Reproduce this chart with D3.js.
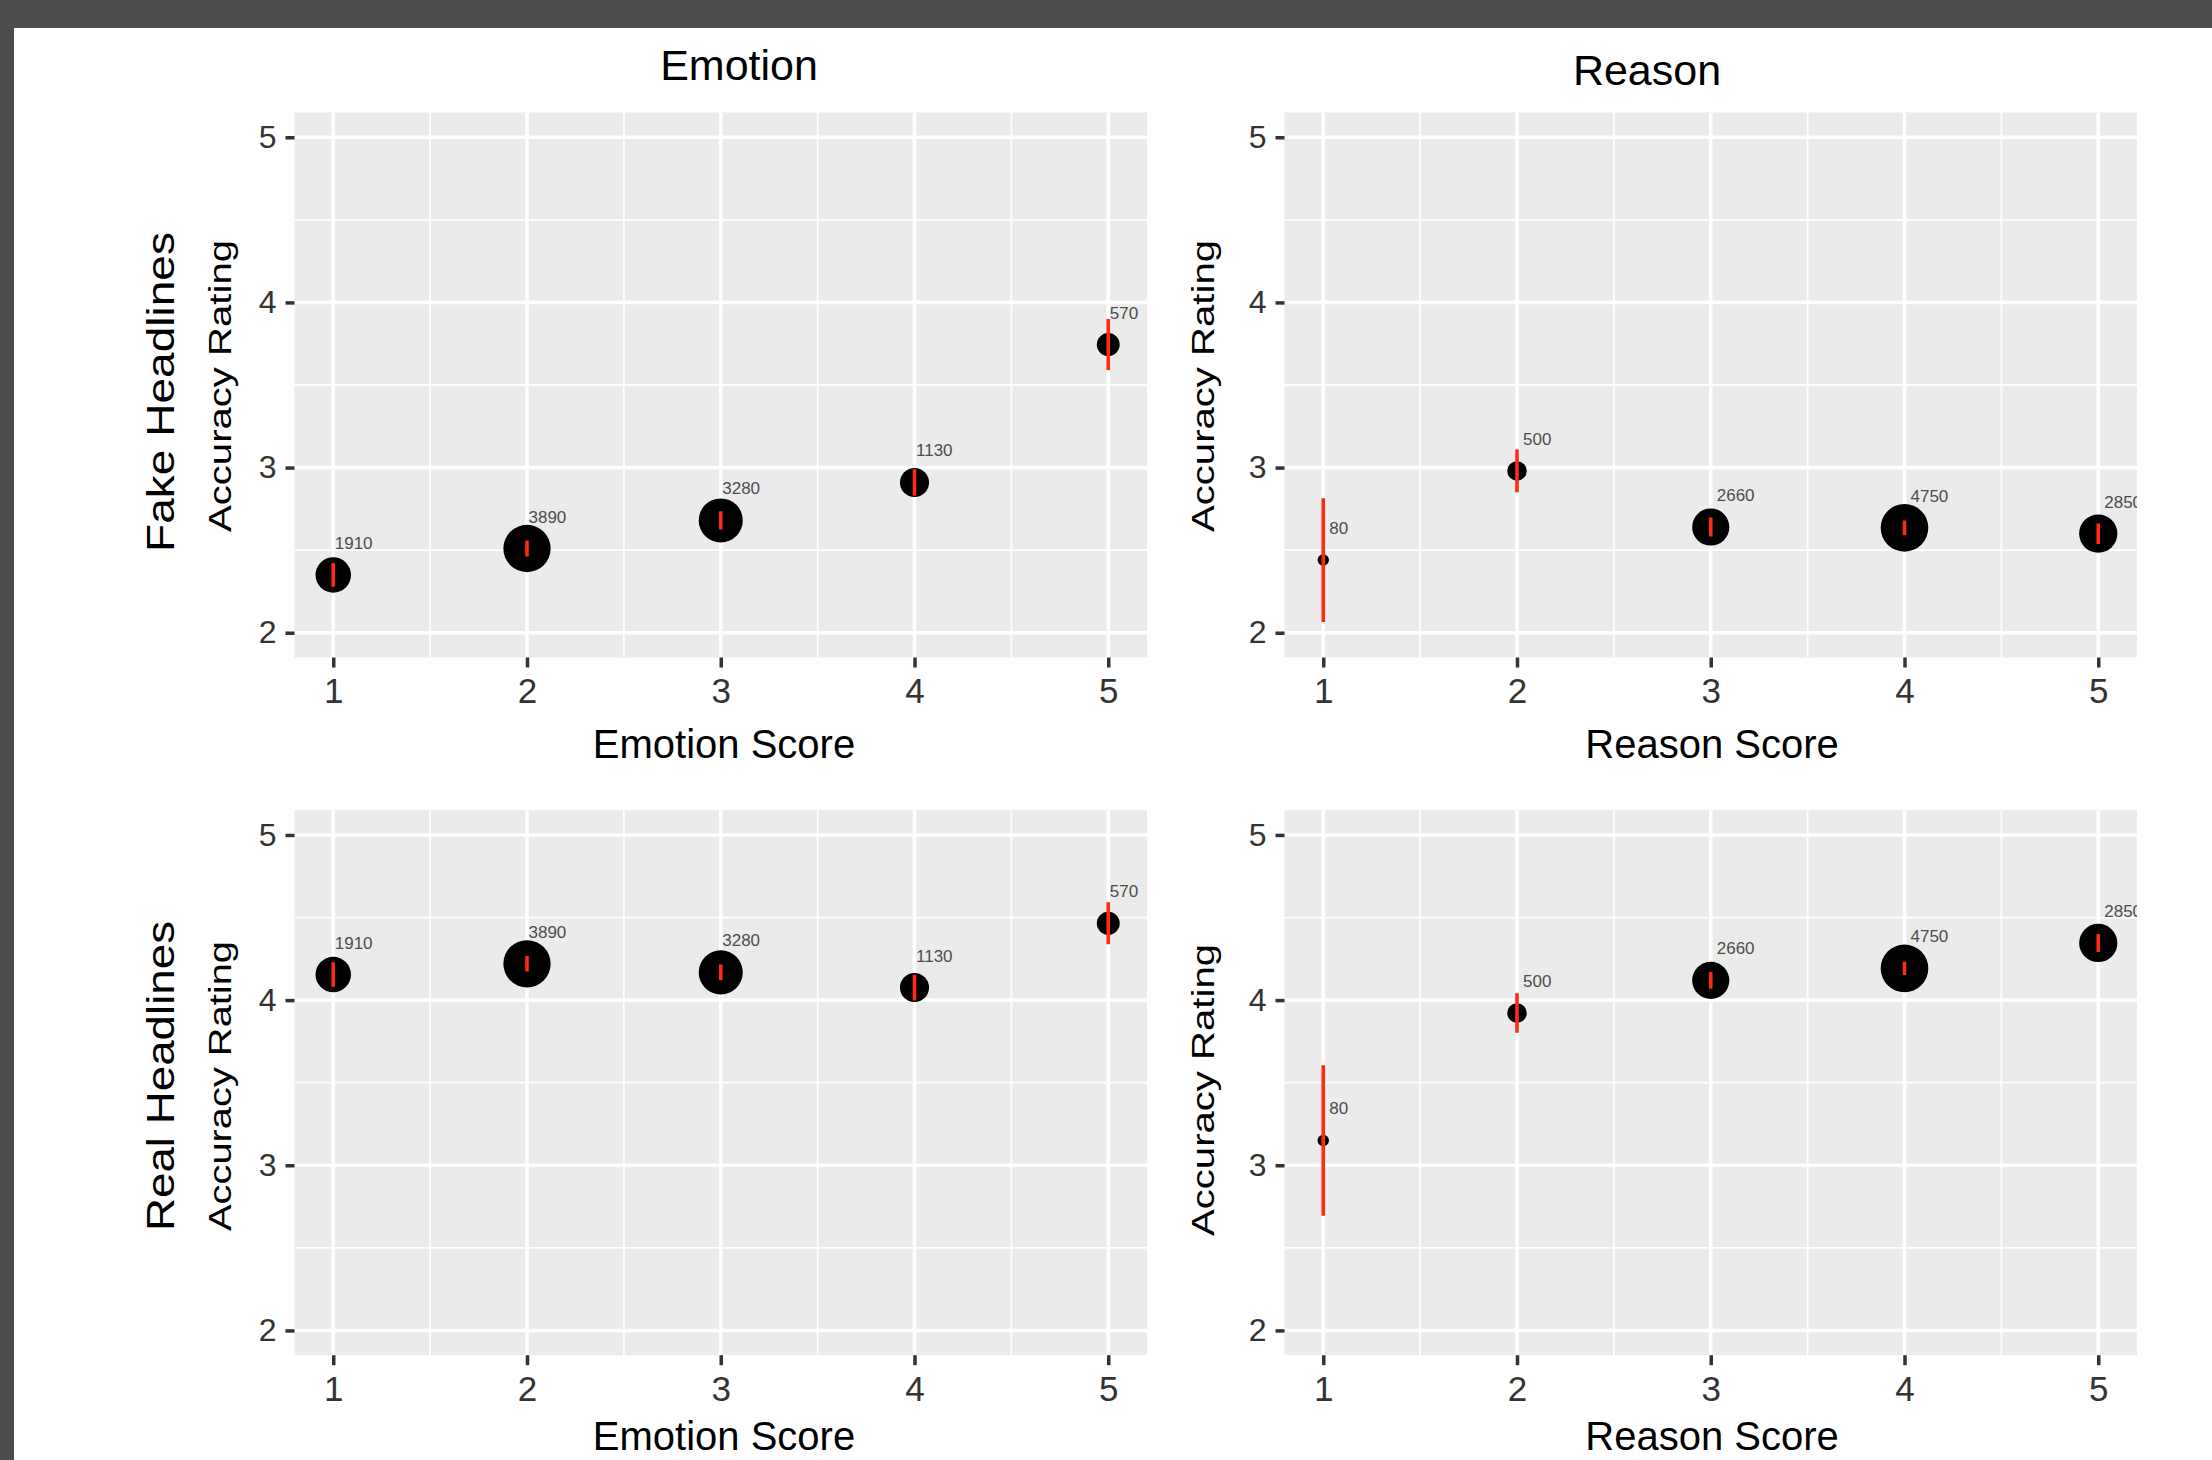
<!DOCTYPE html>

<body style="margin:0">
  <div id="chart"></div>
  <script src="https://d3js.org/d3.v7.min.js"></script>
  <script>
    // data
    var scores = [1, 2, 3, 4, 5];
    var xTicks = [1, 2, 3, 4, 5];
    var yTicks = [2, 3, 4, 5];
    var xMinor = [1.5, 2.5, 3.5, 4.5];
    var yMinor = [2.5, 3.5, 4.5];

    var emotionN = [1910, 3890, 3280, 1130, 570];
    var reasonN = [80, 500, 2660, 4750, 2850];

    var fakeEmotionMean = [2.35, 2.51, 2.68, 2.91, 3.745];
    var fakeEmotionErr = [0.072, 0.048, 0.055, 0.08, 0.155];
    var fakeReasonMean = [2.44, 2.98, 2.64, 2.635, 2.60];
    var fakeReasonErr = [0.375, 0.13, 0.057, 0.045, 0.062];

    var realEmotionMean = [4.155, 4.22, 4.168, 4.076, 4.465];
    var realEmotionErr = [0.074, 0.047, 0.047, 0.078, 0.127];
    var realReasonMean = [3.15, 3.922, 4.12, 4.192, 4.346];
    var realReasonErr = [0.455, 0.12, 0.051, 0.04, 0.054];

    var font = "'Liberation Sans', Arial, Helvetica, sans-serif";
    var width = 2212,
      height = 1460;

    var panelW = 852.5,
      panelH = 545;
    var colX = [294.5, 1284.5];
    var rowY = [112.5, 810.2];

    var xScale = d3.scaleLinear().domain([0.8, 5.2]).range([0, panelW]);
    var yScale = d3.scaleLinear().domain([1.85, 5.15]).range([panelH, 0]);

    var sizeEmotion = d3.scalePow().exponent(0.5).domain([0, 5000]).range([3.9, 26.3]);
    var sizeReason = d3.scalePow().exponent(0.5).domain([0, 5000]).range([3.0, 24.35]);

    var svg = d3.select("#chart")
      .append("svg")
      .attr("width", width)
      .attr("height", height)
      .style("font-family", font);

    svg.append("rect")
      .attr("width", width)
      .attr("height", height)
      .attr("fill", "#4d4d4d");
    svg.append("rect")
      .attr("x", 14)
      .attr("y", 28)
      .attr("width", width - 14)
      .attr("height", height - 28)
      .attr("fill", "#ffffff");

    function drawPanel(id, px, py, means, errs, counts, sizeScale, labelDx) {
      var rows = scores.map(function(s, i) {
        return { score: s, mean: means[i], err: errs[i], n: counts[i] };
      });

      var g = svg.append("g")
        .attr("transform", "translate(" + px + "," + py + ")");

      svg.append("clipPath")
        .attr("id", id)
        .append("rect")
        .attr("x", px)
        .attr("y", py)
        .attr("width", panelW)
        .attr("height", panelH);

      g.append("rect")
        .attr("width", panelW)
        .attr("height", panelH)
        .attr("fill", "#ebebeb");

      // minor grid
      g.selectAll(".xminor").data(xMinor).enter().append("line")
        .attr("x1", function(d) { return xScale(d); })
        .attr("x2", function(d) { return xScale(d); })
        .attr("y1", 0).attr("y2", panelH)
        .attr("stroke", "#ffffff").attr("stroke-width", 1.8);
      g.selectAll(".yminor").data(yMinor).enter().append("line")
        .attr("y1", function(d) { return yScale(d); })
        .attr("y2", function(d) { return yScale(d); })
        .attr("x1", 0).attr("x2", panelW)
        .attr("stroke", "#ffffff").attr("stroke-width", 1.8);

      // major grid
      g.selectAll(".xmajor").data(xTicks).enter().append("line")
        .attr("x1", function(d) { return xScale(d); })
        .attr("x2", function(d) { return xScale(d); })
        .attr("y1", 0).attr("y2", panelH)
        .attr("stroke", "#ffffff").attr("stroke-width", 3.6);
      g.selectAll(".ymajor").data(yTicks).enter().append("line")
        .attr("y1", function(d) { return yScale(d); })
        .attr("y2", function(d) { return yScale(d); })
        .attr("x1", 0).attr("x2", panelW)
        .attr("stroke", "#ffffff").attr("stroke-width", 3.6);

      // axes
      var ya = g.append("g")
        .call(d3.axisLeft(yScale).tickValues(yTicks).tickSize(9).tickPadding(9).tickFormat(d3.format("d")));
      ya.select(".domain").remove();
      ya.selectAll("line").attr("stroke", "#333333").attr("stroke-width", 3.5);
      ya.selectAll("text").attr("fill", "#333333").style("font-size", "32px").style("font-family", font);

      var xa = g.append("g")
        .attr("transform", "translate(0," + panelH + ")")
        .call(d3.axisBottom(xScale).tickValues(xTicks).tickSize(10).tickPadding(11).tickFormat(d3.format("d")));
      xa.select(".domain").remove();
      xa.selectAll("line").attr("stroke", "#333333").attr("stroke-width", 3.5);
      xa.selectAll("text").attr("fill", "#333333").style("font-size", "35px").style("font-family", font);

      var marks = g.append("g")
        .attr("clip-path", "url(#" + id + ")")
        .attr("transform", "translate(" + (-px) + "," + (-py) + ")")
        .append("g")
        .attr("transform", "translate(" + px + "," + py + ")");

      marks.selectAll(".pt").data(rows).enter().append("circle")
        .attr("cx", function(d) { return xScale(d.score); })
        .attr("cy", function(d) { return yScale(d.mean); })
        .attr("r", function(d) { return sizeScale(d.n); })
        .attr("fill", "#000000");

      marks.selectAll(".err").data(rows).enter().append("line")
        .attr("x1", function(d) { return xScale(d.score); })
        .attr("x2", function(d) { return xScale(d.score); })
        .attr("y1", function(d) { return yScale(d.mean - d.err); })
        .attr("y2", function(d) { return yScale(d.mean + d.err); })
        .attr("stroke", "#ff2a10")
        .attr("stroke-width", 3.6);

      marks.selectAll(".lab").data(rows).enter().append("text")
        .attr("x", function(d) { return xScale(d.score) + labelDx; })
        .attr("y", function(d) { return yScale(d.mean) - 26; })
        .attr("fill", "#4d4d4d")
        .style("font-size", "17px")
        .text(function(d) { return d.n; });
    }

    drawPanel("c11", colX[0], rowY[0], fakeEmotionMean, fakeEmotionErr, emotionN, sizeEmotion, 1.5);
    drawPanel("c12", colX[1], rowY[0], fakeReasonMean, fakeReasonErr, reasonN, sizeReason, 6);
    drawPanel("c21", colX[0], rowY[1], realEmotionMean, realEmotionErr, emotionN, sizeEmotion, 1.5);
    drawPanel("c22", colX[1], rowY[1], realReasonMean, realReasonErr, reasonN, sizeReason, 6);

    // column titles
    svg.append("text").attr("x", 739).attr("y", 80)
      .attr("text-anchor", "middle").style("font-size", "43px").text("Emotion");
    svg.append("text").attr("x", 1647).attr("y", 85)
      .attr("text-anchor", "middle").style("font-size", "43px").text("Reason");

    // x titles
    var titleY = [rowY[0] + panelH + 100, rowY[1] + panelH + 95];
    titleY.forEach(function(ty) {
      svg.append("text").attr("x", 724).attr("y", ty)
        .attr("text-anchor", "middle").style("font-size", "40px").text("Emotion Score");
      svg.append("text").attr("x", 1712).attr("y", ty)
        .attr("text-anchor", "middle").style("font-size", "40px").text("Reason Score");
    });

    // rotated y titles
    function vText(x, y, size, len, label) {
      svg.append("text")
        .attr("transform", "translate(" + x + "," + y + ") rotate(-90)")
        .attr("text-anchor", "middle")
        .attr("textLength", len)
        .attr("lengthAdjust", "spacingAndGlyphs")
        .style("font-size", size + "px")
        .text(label);
    }
    vText(174, 392, 38, 320, "Fake Headlines");
    vText(174, 1076, 38, 310, "Real Headlines");
    vText(231, 386, 32, 292, "Accuracy Rating");
    vText(231, 1086, 32, 290, "Accuracy Rating");
    vText(1214, 386, 32, 292, "Accuracy Rating");
    vText(1214, 1090, 32, 292, "Accuracy Rating");
  </script>
</body>
